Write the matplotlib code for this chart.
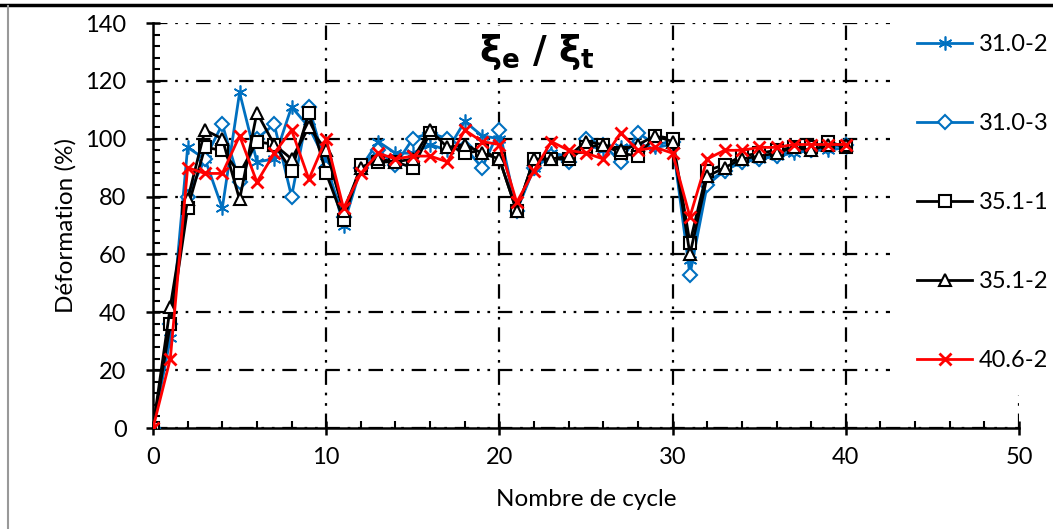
import matplotlib
matplotlib.use("Agg")
import matplotlib.pyplot as plt
from matplotlib.lines import Line2D
from matplotlib.patches import Rectangle

plt.rcParams['font.family'] = ['Lato', 'DejaVu Sans']
plt.rcParams['mathtext.fontset'] = 'dejavusans'

# cycle numbers
cycles = list(range(41))

# deformation ratio (%)
s31_0_2 = [0, 31, 97, 93, 76, 116, 92, 93, 111, 104, 92, 70, 90, 99, 95, 95, 98, 96, 106, 101, 100,
           76, 90, 95, 94, 98, 96, 97, 98, 97, 98, 58, 85, 89, 92, 93, 94, 95, 96, 96, 97]
s31_0_3 = [0, 36, 80, 93, 105, 85, 100, 105, 80, 111, 90, 73, 90, 96, 91, 100, 102, 100, 97, 90, 103,
           75, 90, 94, 92, 100, 98, 92, 102, 98, 99, 53, 84, 89, 92, 93, 94, 96, 96, 97, 98]
s35_1_1 = [0, 36, 76, 97, 96, 88, 99, 98, 89, 109, 88, 72, 91, 92, 92, 90, 102, 98, 95, 96, 93,
           75, 93, 93, 93, 97, 98, 95, 94, 101, 100, 64, 89, 91, 94, 95, 96, 97, 97, 99, 97]
s35_1_2 = [0, 42, 79, 103, 100, 79, 109, 98, 93, 104, 96, 75, 90, 93, 92, 93, 103, 97, 98, 95, 93,
           75, 93, 93, 94, 99, 98, 96, 98, 101, 99, 60, 87, 90, 93, 94, 95, 97, 96, 98, 98]
s40_6_2 = [0, 24, 90, 88, 88, 101, 85, 95, 103, 86, 100, 76, 88, 95, 93, 94, 94, 92, 103, 99, 98,
           78, 89, 99, 96, 95, 93, 102, 96, 97, 95, 73, 93, 96, 96, 97, 97, 98, 98, 98, 98]

labels = ['31.0-2', '31.0-3', '35.1-1', '35.1-2', '40.6-2']

blue = '#0070C0'
red = '#FF0000'

fig = plt.figure(figsize=(10.53, 5.29), dpi=100)
ax = fig.add_axes([0.1453, 0.1909, 0.8224, 0.7656])

ax.plot(cycles, s31_0_2, color=blue, lw=2, marker=(6, 2, 0), ms=10, mew=1.2,
        mec=blue, label=labels[0], zorder=3)
ax.plot(cycles, s31_0_3, color=blue, lw=2, marker='D', ms=7, mew=1.5,
        mfc='white', mec=blue, label=labels[1], zorder=3)
ax.plot(cycles, s35_1_1, color='black', lw=2, marker='s', ms=8, mew=1.5,
        mfc='white', mec='black', label=labels[2], zorder=4)
ax.plot(cycles, s35_1_2, color='black', lw=2, marker='^', ms=8, mew=1.5,
        mfc='white', mec='black', label=labels[3], zorder=4)
ax.plot(cycles, s40_6_2, color=red, lw=2, marker='x', ms=9, mew=2,
        mec=red, label=labels[4], zorder=5)

ax.set_xlim(0, 50)
ax.set_ylim(0, 140)
ax.set_xticks(range(0, 51, 10))
ax.set_xticks(range(0, 51, 2), minor=True)
ax.set_yticks(range(0, 141, 20))
ax.set_yticks(range(0, 141, 4), minor=True)

for s in ['top', 'right']:
    ax.spines[s].set_visible(False)
for s in ['left', 'bottom']:
    ax.spines[s].set_linewidth(1.8)

ax.tick_params(which='major', direction='inout', length=10, width=1.8, labelsize=17)
ax.tick_params(which='minor', direction='in', length=5, width=1.5)
ax.tick_params(axis='x', which='major', pad=9)
ax.tick_params(axis='y', which='major', pad=14)

ax.grid(True, which='major', color='black', lw=1.6, linestyle=(0, (6.5, 3.5, 1.2, 3.5, 1.2, 3.5)))
ax.set_axisbelow(True)

ax.set_xlabel('Nombre de cycle', fontsize=17.5, labelpad=15)
ax.set_ylabel('Déformation (%)', fontsize=17.5, labelpad=6)

# title inside plot
fig.text(537 / 1053, 1 - 52 / 529, r'$\mathbf{\xi_e\ /\ \xi_t}$', fontsize=27,
         ha='center', va='center', zorder=6,
         bbox=dict(facecolor='white', edgecolor='none', pad=4))

# white panel behind legend
fig.add_artist(Rectangle((890 / 1053, 1 - 395 / 529), 1 - 890 / 1053, 395 / 529 - 10 / 529,
                         transform=fig.transFigure, facecolor='white', edgecolor='none', zorder=2))
leg = fig.legend(loc='upper left', bbox_to_anchor=(908 / 1053, 1 - 25 / 529), frameon=False,
                 fontsize=17, handlelength=2.3, handletextpad=0.3, labelspacing=2.45,
                 borderaxespad=0)
leg.set_zorder(7)

# page edges of the original crop
fig.add_artist(Line2D([0, 1], [1 - 5 / 529, 1 - 5 / 529], transform=fig.transFigure,
                      color='black', lw=2.5))
fig.add_artist(Line2D([8 / 1053, 8 / 1053], [0, 1 - 6 / 529], transform=fig.transFigure,
                      color='#999999', lw=1.5))

fig.savefig('out.png', dpi=100)
